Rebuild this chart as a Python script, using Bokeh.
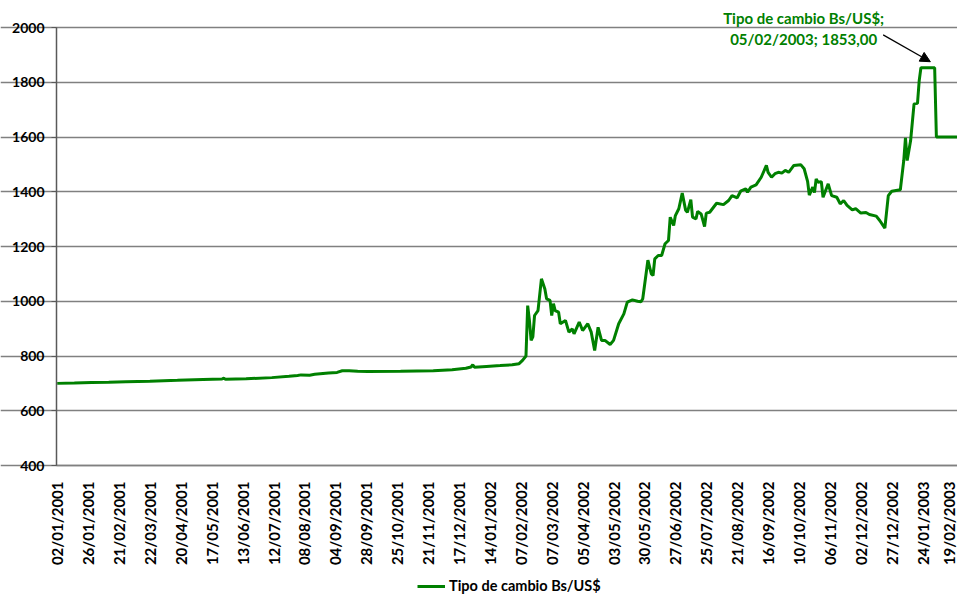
import math
from bokeh.plotting import figure
from bokeh.models import (Range1d, FixedTicker, Legend, LegendItem, Label, Arrow,
                          NormalHead, ColumnDataSource)
from bokeh.embed import file_html
from bokeh.resources import INLINE

# ---- data (observation index on a business-day category axis, value Bs/US$) ----
tick_labels = ["02/01/2001", "26/01/2001", "21/02/2001", "22/03/2001", "20/04/2001",
               "17/05/2001", "13/06/2001", "12/07/2001", "08/08/2001", "04/09/2001",
               "28/09/2001", "25/10/2001", "21/11/2001", "17/12/2001", "14/01/2002",
               "07/02/2002", "07/03/2002", "05/04/2002", "03/05/2002", "30/05/2002",
               "27/06/2002", "25/07/2002", "21/08/2002", "16/09/2002", "10/10/2002",
               "06/11/2002", "02/12/2002", "27/12/2002", "24/01/2003", "19/02/2003"]
obs_per_tick = 18
y_ticks = [400, 600, 800, 1000, 1200, 1400, 1600, 1800, 2000]

obs = [0, 10, 20, 30, 40, 54, 70, 85, 96, 97, 98, 110, 125, 135, 140, 142, 147, 150,
       158, 163, 166, 170, 175, 181, 200, 219, 230, 238, 241, 242, 243, 250, 258, 265,
       269, 271, 273, 274, 275, 276, 277, 278, 280, 282, 284, 285, 287, 288, 289, 290,
       292, 293, 296, 298, 300, 301, 304, 306, 309, 311, 313, 315, 317, 319, 322, 324,
       327, 330, 332, 335, 338, 340, 341, 344, 346, 347, 348, 350, 352, 354, 356, 357,
       359, 360, 362, 364, 366, 367, 369, 370, 372, 373, 375, 377, 378, 380, 384, 388,
       391, 393, 396, 398, 401, 402, 404, 407, 410, 413, 414, 416, 418, 420, 422, 424,
       426, 429, 433, 435, 437, 438, 440, 441, 442, 443, 445, 446, 449, 451, 454, 456,
       458, 460, 463, 465, 468, 471, 473, 477, 479, 482, 484, 486, 491, 493, 494, 495,
       497, 499, 501, 502, 503, 511, 512, 524]
rate = [700, 701, 703, 704, 706, 708, 711, 714, 716, 719, 715, 717, 721, 726, 729, 731,
        730, 733, 738, 740, 746, 746, 744, 743, 744, 746, 750, 755, 760, 768, 759, 762,
        765, 768, 772, 784, 800, 984, 930, 857, 870, 948, 966, 1082, 1045, 1009, 1003,
        948, 991, 966, 960, 918, 930, 887, 899, 881, 924, 893, 918, 887, 820, 905, 857,
        857, 842, 857, 918, 954, 997, 1005, 1000, 998, 1009, 1150, 1100, 1094, 1155,
        1167, 1167, 1210, 1222, 1307, 1277, 1313, 1338, 1395, 1332, 1325, 1371, 1307,
        1301, 1328, 1319, 1273, 1322, 1325, 1358, 1353, 1368, 1386, 1378, 1402, 1411,
        1398, 1417, 1425, 1453, 1496, 1471, 1453, 1466, 1471, 1468, 1478, 1471, 1496,
        1499, 1484, 1438, 1388, 1417, 1397, 1447, 1435, 1437, 1380, 1429, 1386, 1380,
        1356, 1368, 1350, 1334, 1338, 1322, 1324, 1317, 1311, 1295, 1267, 1386, 1402,
        1407, 1514, 1597, 1514, 1587, 1721, 1723, 1806, 1853, 1853, 1600, 1600]

series_name = "Tipo de cambio Bs/US$"
annot_obs = 511
annot_value = 1853
annot_lines = ["Tipo de cambio Bs/US$;", "05/02/2003; 1853,00"]

GREEN = "#008000"
FONT = "Lato"

# The frame fills the whole canvas; the value axis covers 400..2000 on 438 px
# and the dates span 901 px, the rest is room for labels, annotation and legend.
W, H = 957, 594
PLOT_LEFT, PLOT_TOP, PLOT_H = 56, 27, 438
x_start, x_end = -0.4, 524.3
x_units_per_px = (x_end - x_start) / (W - PLOT_LEFT)
x_lo = x_start - PLOT_LEFT * x_units_per_px
y_units_per_px = (y_ticks[-1] - y_ticks[0]) / PLOT_H
y_lo = y_ticks[0] - (H - PLOT_TOP - PLOT_H) * y_units_per_px
y_hi = y_ticks[-1] + PLOT_TOP * y_units_per_px

p = figure(width=W, height=H, output_backend="svg", toolbar_location=None,
           x_range=Range1d(x_lo, x_end), y_range=Range1d(y_lo, y_hi),
           min_border_left=0, min_border_right=0, min_border_top=0,
           min_border_bottom=0)
p.outline_line_color = None
p.background_fill_color = "white"

src = ColumnDataSource(dict(x=obs, y=rate))
r = p.line("x", "y", source=src, line_color=GREEN, line_width=3)

# x axis, drawn at value 400
tick_pos = [i * obs_per_tick for i in range(len(tick_labels))]
p.xaxis.fixed_location = y_ticks[0]
p.xaxis.bounds = (x_start, x_end)
p.xaxis.ticker = FixedTicker(ticks=tick_pos)
p.xaxis.major_label_overrides = {t: lab for t, lab in zip(tick_pos, tick_labels)}
p.xaxis.major_label_orientation = math.pi / 2
p.xaxis.major_tick_line_color = None
p.xaxis.minor_tick_line_color = None
p.xaxis.major_label_standoff = 10
p.xaxis.axis_line_color = "#808080"
p.xaxis.axis_line_width = 1.5
p.xaxis.major_label_text_font = FONT
p.xaxis.major_label_text_font_style = "bold"
p.xaxis.major_label_text_font_size = "15px"
p.xaxis.major_label_text_color = "black"

# y axis, drawn at the first observation
p.yaxis.fixed_location = x_start
p.yaxis.bounds = (y_ticks[0], y_ticks[-1])
p.yaxis.ticker = FixedTicker(ticks=y_ticks)
p.yaxis.major_tick_out = 5
p.yaxis.major_tick_in = 0
p.yaxis.minor_tick_line_color = None
p.yaxis.major_tick_line_color = "#595959"
p.yaxis.axis_line_color = "#595959"
p.yaxis.axis_line_width = 1.5
p.yaxis.major_label_standoff = 7
p.yaxis.major_label_text_font = FONT
p.yaxis.major_label_text_font_style = "bold"
p.yaxis.major_label_text_font_size = "14px"
p.yaxis.major_label_text_color = "black"

p.xgrid.grid_line_color = None
p.ygrid.bounds = (x_start, x_end)
p.ygrid.grid_line_color = "#808080"
p.ygrid.grid_line_width = 1.5

# annotation
for i, txt in enumerate(annot_lines):
    p.add_layout(Label(x=annot_obs, y=annot_value, text=txt, x_offset=-131,
                       y_offset=50 - 21 * i, text_align="center", text_baseline="middle",
                       text_font=FONT, text_font_style="bold", text_font_size="15px",
                       text_color=GREEN))
p.add_layout(Arrow(end=NormalHead(size=10, fill_color="black", line_color="black"),
                   x_start=annot_obs - 30, y_start=annot_value + 120,
                   x_end=annot_obs - 2.5, y_end=annot_value + 22,
                   line_color="black", line_width=1.2))

legend = Legend(items=[LegendItem(label=series_name, renderers=[r])],
                location=(417, 0), orientation="horizontal",
                padding=0, margin=0, spacing=0,
                glyph_width=28, glyph_height=14, label_height=14, label_standoff=4,
                label_text_font=FONT, label_text_font_style="bold",
                label_text_font_size="14.5px", label_text_color="black",
                border_line_color=None, background_fill_alpha=0)
p.add_layout(legend, "center")

open("out.html", "w").write(file_html(p, INLINE))
